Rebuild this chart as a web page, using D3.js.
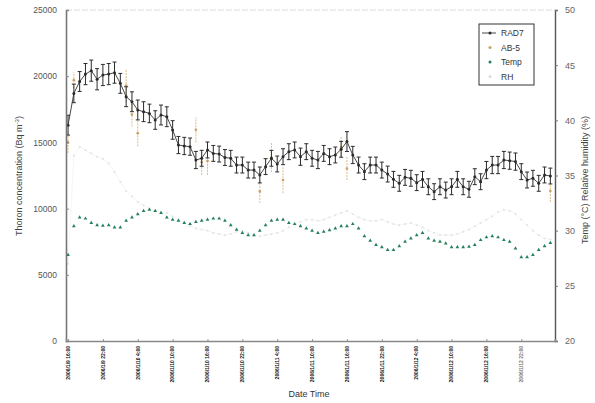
<!DOCTYPE html>
<html>
<head>
<meta charset="utf-8">
<script src="https://cdn.jsdelivr.net/npm/d3@7"></script>
<style>
  body { margin: 0; background: #fff; }
  svg { display: block; font-family: "Liberation Sans", Arial, sans-serif; }
</style>
</head>
<body>
<svg id="chart" width="595" height="403"></svg>
<script>
// hourly readings, hour 0 = first tick
const hourTicks = [0, 6, 12, 18, 24, 30, 36, 42, 48, 54, 60, 66, 72, 78];
const tickLabels = [
  '2006/1/9 16:00', '2006/1/9 22:00', '2006/1/10 4:00', '2006/1/10 10:00',
  '2006/1/10 16:00', '2006/1/10 22:00', '2006/1/11 4:00', '2006/1/11 10:00',
  '2006/1/11 16:00', '2006/1/11 22:00', '2006/1/12 4:00', '2006/1/12 10:00',
  '2006/1/12 16:00', '2006/1/12 22:00'
];
const thoronTicks = [0, 5000, 10000, 15000, 20000, 25000];
const rightTicks = [20, 25, 30, 35, 40, 45, 50];

const rad7 = [
  16300, 18700, 19600, 20160, 20420, 19770, 20090, 20160, 20270, 19460, 18450, 18070, 17450, 17320,
  17190, 16690, 17070, 16940, 15940, 14800, 14730, 14680, 13670, 13800, 14430, 14170, 14120, 13860,
  13800, 13290, 13290, 12910, 12910, 12540, 13170, 13800, 13370, 13920, 14300, 14430, 13920, 14300,
  13800, 13670, 14170, 13920, 14050, 14480, 15060, 14050, 13290, 12790, 13290, 13290, 12910, 12610,
  12210, 11910, 12360, 12290, 11960, 12210, 11650, 11280, 11650, 11400, 11650, 12210, 11650, 11460,
  12410, 12030, 12910, 13290, 13290, 13670, 13620, 13550, 12790, 12160, 12290, 11910, 12540, 12460
];
const rad7Err = [
  750, 700, 750, 800, 800, 800, 800, 800, 800, 750, 750, 750, 750, 750,
  700, 700, 750, 750, 700, 650, 650, 650, 650, 600, 600, 600, 600, 600,
  600, 600, 600, 600, 600, 600, 600, 600, 600, 600, 600, 600, 650, 600,
  600, 650, 600, 600, 600, 600, 750, 650, 600, 600, 600, 600, 600, 600,
  600, 600, 600, 600, 600, 600, 600, 600, 600, 600, 600, 600, 600, 600,
  600, 600, 650, 650, 650, 650, 650, 650, 600, 600, 600, 600, 600, 600
];

const ab5Hour = [0, 1, 10, 11, 12, 22, 23, 24, 33, 35, 37, 47, 48, 83];
const ab5 = [15000, 19700, 19300, 17100, 15700, 15950, 13500, 13600, 11300, 13860, 12160, 14650, 13030, 11330];
const ab5Err = [800, 600, 1250, 900, 1000, 950, 950, 1050, 870, 1100, 1000, 750, 870, 830];

const temp = [
  27.8, 30.4, 31.2, 31.1, 30.7, 30.5, 30.45, 30.5, 30.3, 30.3, 30.9, 31.2, 31.5, 31.8,
  31.9, 31.8, 31.6, 31.2, 31.0, 30.9, 30.7, 30.6, 30.8, 30.9, 31.0, 31.1, 31.1, 30.9,
  30.5, 30.1, 29.8, 29.6, 29.6, 30.0, 30.5, 30.9, 31.0, 31.0, 30.7, 30.6, 30.4, 30.2,
  30.0, 29.8, 29.9, 30.05, 30.2, 30.4, 30.4, 30.6, 30.2, 29.5, 29.1, 28.7, 28.5, 28.25,
  28.25, 28.6, 29.0, 29.3, 29.6, 29.8, 29.3, 29.1, 29.0, 28.85, 28.5, 28.5, 28.5, 28.55,
  28.7, 29.15, 29.4, 29.5, 29.4, 29.15, 29.0, 28.4, 27.6, 27.6, 27.8, 28.25, 28.6, 28.9
];

const rh = [
  27.0, 36.8, 37.6, 37.3, 37.0, 36.7, 36.5, 36.1, 35.3, 34.4, 33.6, 33.1, 32.6, 32.3,
  32.0, 31.8, 31.7, 31.6, 31.3, 31.0, 30.7, 30.4, 30.2, 30.1, 30.0, 29.8, 29.7, 29.6,
  29.7, 29.9, 30.0, 29.8, 29.6, 29.5, 29.6, 29.7, 29.8, 30.0, 30.3, 30.6, 30.8, 31.0,
  31.0, 30.9, 31.0, 31.2, 31.4, 31.6, 31.8, 31.5, 31.2, 31.0, 30.9, 30.9, 31.0, 30.8,
  30.6, 30.5, 30.6, 30.7, 30.5, 30.3, 30.0, 29.8, 29.6, 29.6, 29.6, 29.7, 29.9, 30.1,
  30.4, 30.7, 31.0, 31.3, 31.7, 31.9, 31.8, 31.5, 31.0, 30.5, 30.0, 29.6, 29.3, 29.2
];

const svg = d3.select('#chart');
const plot = { left: 66, right: 555, top: 10, bottom: 341 };

const x = d3.scaleLinear().domain([-0.35, 83.8]).range([plot.left, plot.right]);
const yThoron = d3.scaleLinear().domain([0, 25000]).range([plot.bottom, plot.top]);
const yRight = d3.scaleLinear().domain([20, 50]).range([plot.bottom, plot.top]);

const hours = d3.range(rad7.length);

// top frame, faint
svg.append('line')
  .attr('x1', plot.left).attr('x2', plot.right)
  .attr('y1', plot.top).attr('y2', plot.top)
  .attr('stroke', '#dadada')
  .attr('stroke-dasharray', '6,2');

// RH (very faint)
svg.append('path')
  .datum(hours)
  .attr('fill', 'none')
  .attr('stroke', '#f0f0f0')
  .attr('stroke-width', 0.7)
  .attr('d', d3.line().x(i => x(i)).y(i => yRight(rh[i])));

svg.selectAll('.rh-dot')
  .data(hours)
  .join('rect')
  .attr('class', 'rh-dot')
  .attr('x', i => x(i) - 0.9)
  .attr('y', i => yRight(rh[i]) - 0.9)
  .attr('width', 1.8).attr('height', 1.8)
  .attr('fill', '#e2e2e2');

// Temp
svg.selectAll('.temp-dot')
  .data(hours)
  .join('path')
  .attr('class', 'temp-dot')
  .attr('transform', i => `translate(${x(i)},${yRight(temp[i])})`)
  .attr('d', d3.symbol(d3.symbolTriangle, 6))
  .attr('fill', '#23805a');

// AB-5 error bars
const ab5Idx = d3.range(ab5.length);
const ab5Color = '#dcbc88';

svg.selectAll('.ab5-bar')
  .data(ab5Idx)
  .join('line')
  .attr('class', 'ab5-bar')
  .attr('x1', i => x(ab5Hour[i])).attr('x2', i => x(ab5Hour[i]))
  .attr('y1', i => yThoron(ab5[i] - ab5Err[i]))
  .attr('y2', i => yThoron(ab5[i] + ab5Err[i]))
  .attr('stroke', ab5Color)
  .attr('stroke-width', 1)
  .attr('stroke-dasharray', '2,1');

svg.selectAll('.ab5-dot')
  .data(ab5Idx)
  .join('circle')
  .attr('class', 'ab5-dot')
  .attr('cx', i => x(ab5Hour[i]))
  .attr('cy', i => yThoron(ab5[i]))
  .attr('r', 1.3)
  .attr('fill', '#c9a060');

// RAD7
svg.append('path')
  .datum(hours)
  .attr('fill', 'none')
  .attr('stroke', '#333')
  .attr('stroke-width', 0.9)
  .attr('d', d3.line().x(i => x(i)).y(i => yThoron(rad7[i])));

const bars = svg.append('g')
  .attr('stroke', '#2b2b2b')
  .attr('stroke-width', 1);

bars.selectAll('.rad7-bar')
  .data(hours)
  .join('line')
  .attr('x1', i => x(i)).attr('x2', i => x(i))
  .attr('y1', i => yThoron(rad7[i] - rad7Err[i]))
  .attr('y2', i => yThoron(rad7[i] + rad7Err[i]));

bars.selectAll('.rad7-cap-hi')
  .data(hours)
  .join('line')
  .attr('x1', i => x(i) - 2).attr('x2', i => x(i) + 2)
  .attr('y1', i => yThoron(rad7[i] + rad7Err[i]))
  .attr('y2', i => yThoron(rad7[i] + rad7Err[i]));

bars.selectAll('.rad7-cap-lo')
  .data(hours)
  .join('line')
  .attr('x1', i => x(i) - 2).attr('x2', i => x(i) + 2)
  .attr('y1', i => yThoron(rad7[i] - rad7Err[i]))
  .attr('y2', i => yThoron(rad7[i] - rad7Err[i]));

svg.selectAll('.rad7-dot')
  .data(hours)
  .join('circle')
  .attr('class', 'rad7-dot')
  .attr('cx', i => x(i))
  .attr('cy', i => yThoron(rad7[i]))
  .attr('r', 1.5)
  .attr('fill', '#2b2b2b');

// Left axis
svg.append('g')
  .attr('transform', `translate(${plot.left},0)`)
  .call(d3.axisLeft(yThoron).tickValues(thoronTicks).tickSize(-3).tickPadding(9).tickFormat(d3.format('d')))
  .call(g => g.select('.domain').attr('stroke', '#777').attr('stroke-width', 1.6))
  .call(g => g.selectAll('line').attr('stroke', '#888'))
  .selectAll('text')
  .attr('fill', '#555')
  .attr('font-size', '8.5px')
  .attr('font-family', '"Liberation Sans", Arial, sans-serif');

// Right axis
svg.append('g')
  .attr('transform', `translate(${plot.right},0)`)
  .call(d3.axisRight(yRight).tickValues(rightTicks).tickSize(3).tickPadding(7))
  .call(g => g.select('.domain').attr('stroke', '#555').attr('stroke-width', 1.4))
  .call(g => g.selectAll('line').attr('stroke', '#777'))
  .selectAll('text')
  .attr('fill', '#666')
  .attr('font-size', '9px')
  .attr('font-family', '"Liberation Sans", Arial, sans-serif');

// Bottom axis
svg.append('g')
  .attr('transform', `translate(0,${plot.bottom})`)
  .call(d3.axisBottom(x).tickValues(hourTicks).tickSize(-2).tickFormat(''))
  .call(g => g.select('.domain').attr('stroke', '#888').attr('stroke-width', 1.6))
  .call(g => g.selectAll('line').attr('stroke', '#999'));

svg.append('g')
  .selectAll('text')
  .data(d3.range(hourTicks.length))
  .join('text')
  .attr('transform', i => `translate(${x(hourTicks[i]) + 1.8},${plot.bottom + 5}) rotate(-90)`)
  .attr('text-anchor', 'end')
  .attr('font-size', '5px')
  .attr('font-weight', 'bold')
  .attr('fill', (d, i) => i === hourTicks.length - 1 ? '#777' : '#111')
  .text(i => tickLabels[i]);

// Axis titles
svg.append('text')
  .attr('transform', 'translate(22,176) rotate(-90)')
  .attr('text-anchor', 'middle')
  .attr('font-size', '9px')
  .attr('fill', '#444')
  .text('Thoron concentration (Bq m')
  .append('tspan').attr('dy', -3).attr('font-size', '6px').text('-3')
  .select(function () { return this.parentNode; })
  .append('tspan').attr('dy', 3).text(')');

svg.append('text')
  .attr('transform', 'translate(588,180) rotate(-90)')
  .attr('text-anchor', 'middle')
  .attr('font-size', '9px')
  .attr('fill', '#444')
  .text('Temp (\u00B0C)  Relative humidity (%)');

svg.append('text')
  .attr('x', 309).attr('y', 397)
  .attr('text-anchor', 'middle')
  .attr('font-size', '9px')
  .attr('fill', '#333')
  .text('Date Time');

// Legend
const legend = svg.append('g').attr('transform', 'translate(479,24)');
legend.append('rect')
  .attr('width', 55).attr('height', 61)
  .attr('fill', '#fff')
  .attr('stroke', '#333')
  .attr('stroke-width', 1);

const legendItems = ['RAD7', 'AB-5', 'Temp', 'RH'];
const legendColors = ['#2b2b2b', '#c9a060', '#23805a', '#dcdcdc'];

legendItems.forEach((name, i) => {
  const ly = 9 + i * 14.5;
  if (i === 0) {
    legend.append('line')
      .attr('x1', 3).attr('x2', 17)
      .attr('y1', ly).attr('y2', ly)
      .attr('stroke', '#333').attr('stroke-width', 0.9);
  }
  legend.append('circle')
    .attr('cx', 11).attr('cy', ly)
    .attr('r', 1.5)
    .attr('fill', legendColors[i]);
  legend.append('text')
    .attr('x', 22).attr('y', ly + 3)
    .attr('font-size', '8.5px')
    .attr('fill', '#333')
    .text(name);
});
</script>
</body>
</html>
